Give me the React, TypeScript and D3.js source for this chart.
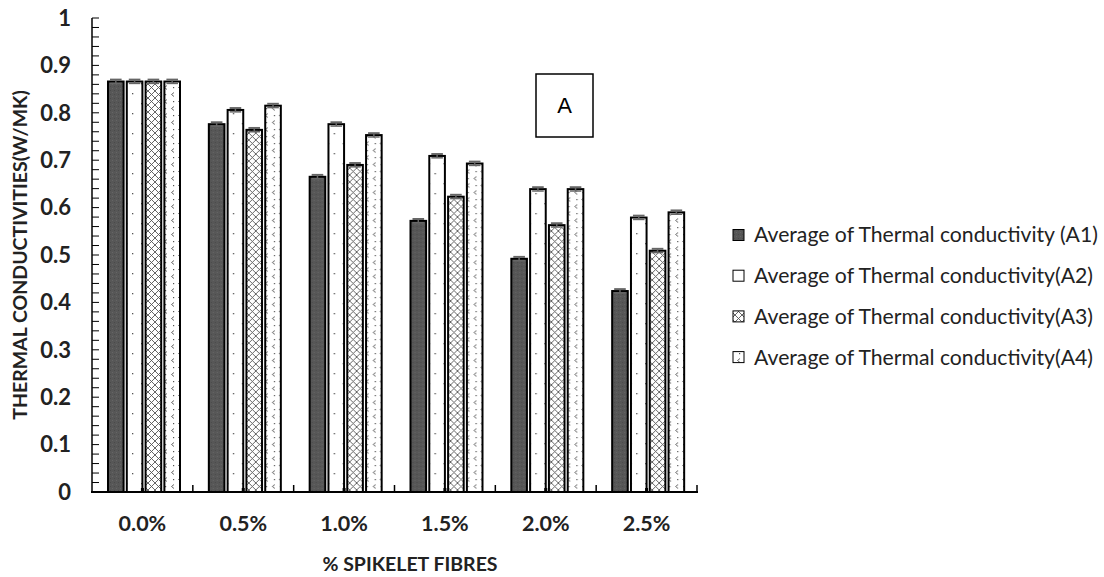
import React from "react";
import * as d3 from "d3";

const categories = ["0.0%", "0.5%", "1.0%", "1.5%", "2.0%", "2.5%"];
const seriesNames = [
  "Average of Thermal conductivity (A1)",
  "Average of Thermal conductivity(A2)",
  "Average of Thermal conductivity(A3)",
  "Average of Thermal conductivity(A4)",
];
const seriesKeys = ["A1", "A2", "A3", "A4"];
const A1 = [0.866, 0.776, 0.665, 0.572, 0.492, 0.424];
const A2 = [0.866, 0.806, 0.776, 0.709, 0.639, 0.579];
const A3 = [0.866, 0.764, 0.69, 0.623, 0.563, 0.509];
const A4 = [0.866, 0.815, 0.753, 0.693, 0.639, 0.59];
const errors = [0.004, 0.004, 0.004, 0.004];
const yTicks = [0, 0.1, 0.2, 0.3, 0.4, 0.5, 0.6, 0.7, 0.8, 0.9, 1];
const yTickLabels = ["0", "0.1", "0.2", "0.3", "0.4", "0.5", "0.6", "0.7", "0.8", "0.9", "1"];
const yMinorStep = 0.02;
const series = [A1, A2, A3, A4];

const FONT = "Lato, 'Open Sans', sans-serif";

export default function App() {
  const W = 1104;
  const H = 577;
  const plotL = 92;
  const plotR = 697;
  const y = d3.scaleLinear().domain([0, 1]).range([492, 18]);
  const x0 = d3.scaleBand<string>().domain(categories).range([plotL, plotR]).paddingInner(0).paddingOuter(0);
  const bw = x0.bandwidth();
  const x1 = d3.scaleBand<string>().domain(seriesKeys).range([16, 16 + 72]).paddingInner(0.17).paddingOuter(0);
  const fills = ["url(#pA1)", "url(#pA2)", "url(#pA3)", "url(#pA4)"];
  const minor = d3.range(0, 1.0001, yMinorStep);

  return (
    <svg width={W} height={H} style={{ position: "absolute", left: 0, top: 0, background: "#fff" }}>
      <defs>
        <pattern id="pA1" width="4" height="4" patternUnits="userSpaceOnUse">
          <rect width="4" height="4" fill="#575757" />
          <rect x="0" y="0" width="1" height="1" fill="#666" />
          <rect x="2" y="2" width="1" height="1" fill="#4a4a4a" />
        </pattern>
        <pattern id="pA2" width="15" height="20" patternUnits="userSpaceOnUse">
          <rect width="15" height="20" fill="#fff" />
          <rect x="4" y="3" width="1.3" height="1.3" fill="#555" />
          <rect x="10" y="13" width="1.3" height="1.3" fill="#555" />
        </pattern>
        <pattern id="pA3" width="7" height="7" patternUnits="userSpaceOnUse">
          <rect width="7" height="7" fill="#fff" />
          <path d="M0,0 L7,7 M7,0 L0,7" stroke="#555" strokeWidth="0.9" fill="none" />
        </pattern>
        <pattern id="pA4" width="14" height="14" patternUnits="userSpaceOnUse">
          <rect width="14" height="14" fill="#fff" />
          <path d="M5,1.5 L2.5,3.5 L5,5.5" stroke="#555" strokeWidth="0.9" fill="none" />
          <path d="M12,8.5 L9.5,10.5 L12,12.5" stroke="#555" strokeWidth="0.9" fill="none" />
          <rect x="11" y="3" width="1.2" height="1.2" fill="#555" />
          <rect x="3" y="10" width="1.2" height="1.2" fill="#555" />
        </pattern>
      </defs>

      {/* y axis ticks */}
      {minor.map((t, i) => (
        <line key={"mt" + i} x1={plotL} x2={plotL + 7} y1={y(t)} y2={y(t)} stroke="#000" strokeWidth={1} />
      ))}
      {yTicks.map((t, i) => (
        <text key={"yl" + i} x={71} y={y(t)} dy="0.35em" textAnchor="end" fontFamily={FONT} fontWeight="bold" fontSize={22} fill="#222">
          {yTickLabels[i]}
        </text>
      ))}

      {/* bars */}
      {categories.map((c, ci) => (
        <g key={c} transform={`translate(${x0(c)},0)`}>
          {series.map((s, si) => {
            const bx = x1(seriesKeys[si])!;
            const w = x1.bandwidth();
            const v = s[ci];
            const e = errors[si];
            return (
              <g key={si}>
                <rect x={bx} y={y(v)} width={w} height={y(0) - y(v)} fill={fills[si]} stroke="#000" strokeWidth={2} />
                <line x1={bx + w / 2} x2={bx + w / 2} y1={y(v + e)} y2={y(v - e)} stroke="#666" strokeWidth={1.5} />
                <line x1={bx + 2} x2={bx + w - 2} y1={y(v + e)} y2={y(v + e)} stroke="#666" strokeWidth={2} />
                <line x1={bx + 2} x2={bx + w - 2} y1={y(v - e)} y2={y(v - e)} stroke="#666" strokeWidth={1.5} />
              </g>
            );
          })}
          <rect x={bw / 2 - 1.5} y={y(0) - 4} width={3} height={4} fill="#000" />
        </g>
      ))}

      {/* x ticks at band boundaries */}
      {categories.map((c, ci) => (
        <line key={"xt" + ci} x1={x0(c)! + bw} x2={x0(c)! + bw} y1={y(0)} y2={y(0) - 7} stroke="#000" strokeWidth={1.5} />
      ))}

      {/* axes lines */}
      <line x1={plotL} x2={plotL} y1={y(1)} y2={y(0)} stroke="#000" strokeWidth={1.5} />
      <line x1={plotL - 1} x2={plotR + 1} y1={y(0)} y2={y(0)} stroke="#000" strokeWidth={2} />

      {/* x labels */}
      {categories.map((c) => (
        <text key={"xl" + c} x={x0(c)! + bw / 2} y={523} dy="0.35em" textAnchor="middle" fontFamily={FONT} fontWeight="bold" fontSize={21.5} fill="#222">
          {c}
        </text>
      ))}

      {/* axis titles */}
      <text x={410} y={564} dy="0.35em" textAnchor="middle" fontFamily={FONT} fontWeight="bold" fontSize={19.5} fill="#222">
        % SPIKELET FIBRES
      </text>
      <text transform={`translate(20,255) rotate(-90)`} dy="0.35em" textAnchor="middle" fontFamily={FONT} fontWeight="bold" fontSize={19.5} fill="#222">
        THERMAL CONDUCTIVITIES(W/MK)
      </text>

      {/* A box */}
      <rect x={536} y={74} width={57} height={63} fill="#fff" stroke="#000" strokeWidth={1.5} />
      <text x={564.5} y={105.5} dy="0.35em" textAnchor="middle" fontFamily="'Liberation Sans', Arial, sans-serif" fontSize={22} fill="#000">
        A
      </text>

      {/* legend */}
      {seriesNames.map((n, i) => {
        const ly = 235 + i * 40.7;
        return (
          <g key={n}>
            <rect x={733} y={ly - 5.5} width={11} height={11} fill={fills[i]} stroke="#000" strokeWidth={1} />
            <text x={754} y={ly} dy="0.35em" fontFamily={FONT} fontSize={21.2} fill="#222">
              {n}
            </text>
          </g>
        );
      })}
    </svg>
  );
}
